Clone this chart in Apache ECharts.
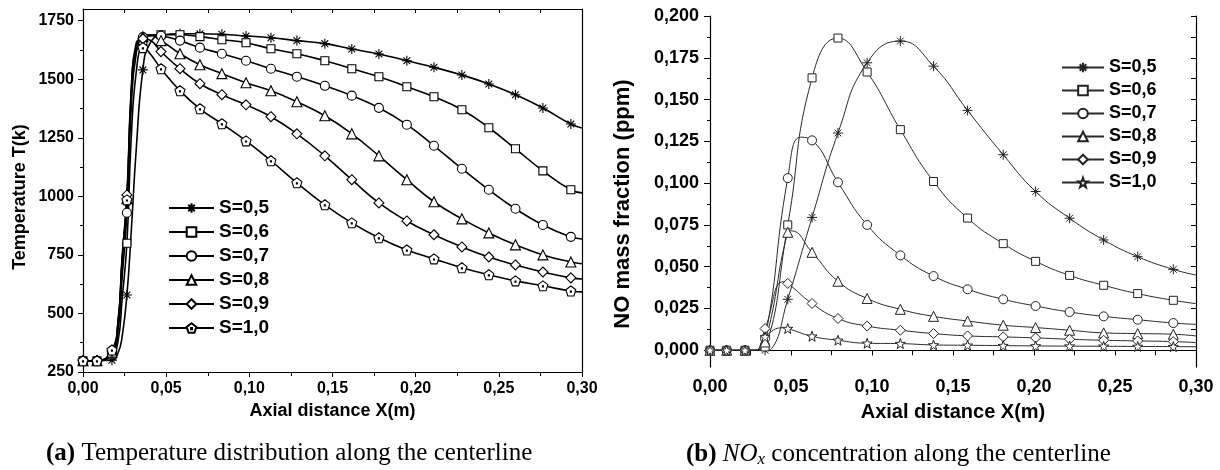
<!DOCTYPE html>
<html><head><meta charset="utf-8">
<script src="https://cdn.jsdelivr.net/npm/echarts@6/dist/echarts.min.js"></script>
<style>html,body{margin:0;padding:0;background:#fff}#c{width:1220px;height:470px}</style>
</head><body><div id="c"></div>
<script>
// ---------- data ----------
const seriesNames = ['S=0,5', 'S=0,6', 'S=0,7', 'S=0,8', 'S=0,9', 'S=1,0'];

// (a) temperature: marker positions and values
const tempX = [0, 0.0084, 0.0174, 0.0264, 0.036, 0.0469, 0.0583, 0.0703, 0.0835, 0.098, 0.113, 0.1286, 0.1454, 0.1616, 0.1779, 0.1947, 0.211, 0.2278, 0.244, 0.260, 0.2765, 0.2933];
const tempS05 = [298, 298, 300, 579, 1540, 1688, 1694, 1694, 1692, 1685, 1677, 1665, 1652, 1629, 1608, 1579, 1551, 1518, 1480, 1434, 1377, 1309];
const tempS06 = [298, 298, 323, 800, 1665, 1690, 1690, 1682, 1669, 1656, 1630, 1609, 1579, 1545, 1511, 1468, 1425, 1370, 1293, 1203, 1109, 1028];
const tempS07 = [298, 298, 330, 930, 1680, 1686, 1665, 1635, 1609, 1579, 1545, 1511, 1472, 1430, 1378, 1306, 1216, 1118, 1028, 947, 878, 827];
const tempS08 = [298, 298, 335, 990, 1682, 1665, 1609, 1562, 1524, 1485, 1451, 1404, 1344, 1267, 1173, 1071, 977, 904, 844, 793, 750, 720];
const tempS09 = [298, 298, 340, 1006, 1673, 1618, 1545, 1481, 1434, 1391, 1340, 1267, 1173, 1071, 972, 895, 836, 784, 741, 707, 677, 652];
const tempS10 = [298, 298, 344, 985, 1635, 1545, 1451, 1374, 1310, 1237, 1152, 1058, 964, 887, 823, 771, 733, 695, 665, 639, 618, 596];
// (a) extra curve points (no marker drawn there)
const tempCurveX = [0.021, 0.0235, 0.029, 0.032, 0.040, 0.300];
const tempCurveS05 = [330, 400, 850, 1200, 1650, 1292];
const tempCurveS06 = [380, 560, 1250, 1530, 1685, 1015];
const tempCurveS07 = [420, 650, 1380, 1610, 1690, 818];
const tempCurveS08 = [450, 720, 1440, 1640, 1688, 712];
const tempCurveS09 = [460, 740, 1460, 1655, 1668, 647];
const tempCurveS10 = [460, 730, 1430, 1625, 1612, 592];

// (b) NO mass fraction: marker positions and values
const noX = [0, 0.0103, 0.0216, 0.034, 0.048, 0.063, 0.079, 0.097, 0.1175, 0.138, 0.159, 0.181, 0.201, 0.222, 0.243, 0.264, 0.286];
const noS05 = [0, 0, 0, 0, 0.0305, 0.0795, 0.130, 0.172, 0.185, 0.170, 0.1435, 0.117, 0.095, 0.079, 0.066, 0.056, 0.0484];
const noS06 = [0, 0, 0, 0.002, 0.075, 0.163, 0.1868, 0.1665, 0.132, 0.101, 0.0791, 0.0638, 0.0532, 0.0448, 0.0389, 0.0339, 0.0299];
const noS07 = [0, 0, 0, 0.007, 0.103, 0.1256, 0.1005, 0.075, 0.0568, 0.0444, 0.0365, 0.0305, 0.0265, 0.0229, 0.0203, 0.0183, 0.0163];
const noS08 = [0, 0, 0, 0.005, 0.0706, 0.0586, 0.0413, 0.031, 0.0245, 0.0203, 0.0175, 0.015, 0.0136, 0.012, 0.0104, 0.0100, 0.0096];
const noS09 = [0, 0, 0, 0.013, 0.040, 0.028, 0.019, 0.0145, 0.012, 0.010, 0.0086, 0.008, 0.0074, 0.0066, 0.006, 0.0056, 0.0052];
const noS10 = [0, 0, 0, 0.008, 0.013, 0.0084, 0.006, 0.0042, 0.004, 0.0032, 0.003, 0.0028, 0.0026, 0.0025, 0.0024, 0.0023, 0.0022];
// (b) extra curve points (no marker)
const noCurveS05 = [[0.028, 0], [0.038, 0.001], [0.300, 0.045]];
const noCurveS06 = [[0.028, 0], [0.300, 0.0279]];
const noCurveS07 = [[0.028, 0], [0.056, 0.1275], [0.300, 0.0155]];
const noCurveS08 = [[0.028, 0], [0.050, 0.0715], [0.300, 0.0086]];
const noCurveS09 = [[0.028, 0], [0.045, 0.041], [0.300, 0.0046]];
const noCurveS10 = [[0.028, 0], [0.045, 0.0135], [0.300, 0.0021]];

// tick values
const tempLabelTicks = [250, 500, 750, 1000, 1250, 1500, 1750];
const tempMinorTicks = [375, 625, 875, 1125, 1375, 1625];
const noLabelTicks = [0, 0.025, 0.05, 0.075, 0.1, 0.125, 0.15, 0.175, 0.2];
const noMinorTicks = [0.0125, 0.0375, 0.0625, 0.0875, 0.1125, 0.1375, 0.1625, 0.1875];
const noRightTicks = [0, 0.0125, 0.025, 0.0375, 0.05, 0.0625, 0.075, 0.0875, 0.1, 0.1125, 0.125, 0.1375, 0.15, 0.1625, 0.175, 0.1875, 0.2];

// ---------- build ----------
function mergeA(ys, cys) {
  const pts = tempX.map((x, i) => ({ value: [x, ys[i]] }));
  tempCurveX.forEach((x, i) => pts.push({ value: [x, cys[i]], symbol: 'none' }));
  pts.sort((a, b) => a.value[0] - b.value[0]);
  return pts;
}
function mergeB(ys, curve) {
  const pts = noX.map((x, i) => ({ value: [x, ys[i]] }));
  curve.forEach(p => pts.push({ value: [p[0], p[1]], symbol: 'none' }));
  pts.sort((a, b) => a.value[0] - b.value[0]);
  return pts;
}

const SYM_AST = 'path://M5,0L5,10M0,5L10,5M1.6,1.6L8.4,8.4M8.4,1.6L1.6,8.4';
const SYM_PENT = 'path://M5,0L9.76,3.45L7.94,9.05L2.06,9.05L0.24,3.45Z M4.5,4.6L5.5,4.6L5.5,5.6L4.5,5.6Z';
const SYM_STAR = 'path://M5,0L6.18,3.38L9.76,3.45L6.9,5.62L7.94,9.05L5,7L2.06,9.05L3.1,5.62L0.24,3.45L3.82,3.38Z';

const symA = [SYM_AST, 'rect', 'circle', 'triangle', 'diamond', SYM_PENT];
const sizeA = [10, 8, 9, 10, 10, 10];
const symB = [SYM_AST, 'rect', 'circle', 'triangle', 'diamond', SYM_STAR];
const sizeB = [10, 8, 9, 10, 10, 10];

const dataA = [mergeA(tempS05, tempCurveS05), mergeA(tempS06, tempCurveS06), mergeA(tempS07, tempCurveS07),
               mergeA(tempS08, tempCurveS08), mergeA(tempS09, tempCurveS09), mergeA(tempS10, tempCurveS10)];
const dataB = [mergeB(noS05, noCurveS05), mergeB(noS06, noCurveS06), mergeB(noS07, noCurveS07),
               mergeB(noS08, noCurveS08), mergeB(noS09, noCurveS09), mergeB(noS10, noCurveS10)];

const FONT = '"Liberation Sans", Arial, sans-serif';
const SERIF = '"Liberation Serif", "Times New Roman", serif';
const black = '#000';

const series = [];
seriesNames.forEach((n, i) => {
  series.push({
    type: 'line', name: 'a' + n, xAxisIndex: 0, yAxisIndex: 0, data: dataA[i],
    smooth: 0.5, symbol: symA[i], symbolSize: sizeA[i], showAllSymbol: true,
    lineStyle: { color: '#000', width: 1.6 },
    itemStyle: { color: '#fff', borderColor: '#000', borderWidth: 1.1 },
    emphasis: { disabled: true }, z: 3
  });
});
seriesNames.forEach((n, i) => {
  series.push({
    type: 'line', name: 'b' + n, xAxisIndex: 2, yAxisIndex: 3, data: dataB[i],
    smooth: 0.5, symbol: symB[i], symbolSize: sizeB[i], showAllSymbol: true,
    lineStyle: { color: '#2a2a2a', width: 1 },
    itemStyle: { color: '#fff', borderColor: '#222', borderWidth: 1 },
    emphasis: { disabled: true }, z: 3
  });
});

const axLine = { show: true, lineStyle: { color: black, width: 1.2 } };
const tickStyle = { color: black, width: 1 };
const fmtX = v => v.toFixed(2).replace('.', ',');

const option = {
  animation: false,
  backgroundColor: '#fff',
  grid: [
    { left: 83, top: 9, width: 499, height: 363 },
    { left: 710, top: 16, width: 486, height: 351 }
  ],
  xAxis: [
    { gridIndex: 0, type: 'value', position: 'bottom', min: 0, max: 0.3, interval: 0.05,
      axisLine: axLine, axisTick: { length: 5, lineStyle: tickStyle },
      minorTick: { show: true, splitNumber: 2, length: 4, lineStyle: tickStyle },
      splitLine: { show: false }, minorSplitLine: { show: false },
      axisLabel: { formatter: fmtX, fontSize: 16, fontWeight: 'bold', color: black, fontFamily: FONT, margin: 9 },
      name: 'Axial distance X(m)', nameLocation: 'middle', nameGap: 29,
      nameTextStyle: { fontSize: 18, fontWeight: 'bold', color: black, fontFamily: FONT } },
    { gridIndex: 0, type: 'value', position: 'top', min: 0, max: 0.3, interval: 0.025,
      axisLine: axLine, axisTick: { inside: true, length: 4, lineStyle: tickStyle },
      axisLabel: { show: false }, splitLine: { show: false } },
    { gridIndex: 1, type: 'value', position: 'bottom', min: 0, max: 0.3, interval: 0.05,
      axisLine: axLine, axisTick: { length: 5, lineStyle: tickStyle },
      minorTick: { show: true, splitNumber: 2, length: 4, lineStyle: tickStyle },
      splitLine: { show: false }, minorSplitLine: { show: false },
      axisLabel: { formatter: fmtX, fontSize: 18, fontWeight: 'bold', color: black, fontFamily: FONT, margin: 11 },
      name: 'Axial distance X(m)', nameLocation: 'middle', nameGap: 35,
      nameTextStyle: { fontSize: 20, fontWeight: 'bold', color: black, fontFamily: FONT } },
    { gridIndex: 1, type: 'value', position: 'top', min: 0, max: 0.3, interval: 0.025,
      axisLine: axLine, axisTick: { inside: true, length: 5, lineStyle: tickStyle },
      axisLabel: { show: false }, splitLine: { show: false } }
  ],
  yAxis: [
    { gridIndex: 0, type: 'value', position: 'left', min: 250, max: 1800,
      axisLine: axLine,
      axisTick: { length: 5, lineStyle: tickStyle, customValues: tempLabelTicks },
      axisLabel: { customValues: tempLabelTicks, formatter: v => String(v), fontSize: 16, fontWeight: 'bold', color: black, fontFamily: FONT, margin: 9 },
      splitLine: { show: false } },
    { gridIndex: 0, type: 'value', position: 'left', min: 250, max: 1800,
      axisLine: { show: false },
      axisTick: { length: 3, lineStyle: tickStyle, customValues: tempMinorTicks },
      axisLabel: { show: false }, splitLine: { show: false } },
    { gridIndex: 0, type: 'value', position: 'right', min: 250, max: 1800,
      axisLine: axLine, axisTick: { show: false }, axisLabel: { show: false }, splitLine: { show: false } },
    { gridIndex: 1, type: 'value', position: 'left', min: -0.01, max: 0.2,
      axisLine: axLine,
      axisTick: { length: 6, lineStyle: tickStyle, customValues: noLabelTicks },
      axisLabel: { customValues: noLabelTicks, formatter: v => v.toFixed(3).replace('.', ','),
        fontSize: 18, fontWeight: 'bold', color: black, fontFamily: FONT, margin: 11 },
      splitLine: { show: false } },
    { gridIndex: 1, type: 'value', position: 'left', min: -0.01, max: 0.2,
      axisLine: { show: false },
      axisTick: { length: 3, lineStyle: tickStyle, customValues: noMinorTicks },
      axisLabel: { show: false }, splitLine: { show: false } },
    { gridIndex: 1, type: 'value', position: 'right', min: -0.01, max: 0.2,
      axisLine: axLine,
      axisTick: { inside: true, length: 5, lineStyle: tickStyle, customValues: noRightTicks },
      axisLabel: { show: false }, splitLine: { show: false } }
  ],
  legend: [
    { data: seriesNames.map(n => 'a' + n), formatter: n => n.slice(1), orient: 'vertical',
      left: 163, top: 193, itemWidth: 45, itemHeight: 12, itemGap: 4, selectedMode: false,
      textStyle: { fontSize: 19, fontWeight: 'bold', color: black, fontFamily: FONT, lineHeight: 20 } },
    { data: seriesNames.map(n => 'b' + n), formatter: n => n.slice(1), orient: 'vertical',
      left: 1056, top: 53, itemWidth: 42, itemHeight: 12, itemGap: 4, selectedMode: false,
      textStyle: { fontSize: 18, fontWeight: 'bold', color: black, fontFamily: FONT, lineHeight: 19 } }
  ],
  graphic: [
    { type: 'text', x: 20, y: 197, rotation: Math.PI / 2,
      style: { text: 'Temperature T(k)', fontSize: 18, fontWeight: 'bold', fontFamily: FONT, fill: black,
        align: 'center', verticalAlign: 'middle' } },
    { type: 'text', x: 623, y: 204, rotation: Math.PI / 2,
      style: { text: 'NO mass fraction (ppm)', fontSize: 22, fontWeight: 'bold', fontFamily: FONT, fill: black,
        align: 'center', verticalAlign: 'middle' } },
    { type: 'text', x: 46, y: 441,
      style: { text: '{b|(a)} Temperature distribution along the centerline', fontSize: 25, fontFamily: SERIF, fill: black,
        rich: { b: { fontSize: 25, fontFamily: SERIF, fontWeight: 'bold' } } } },
    { type: 'text', x: 686, y: 441,
      style: { text: '{b|(b)} {i|NO}{s|x} concentration along the centerline', fontSize: 25, fontFamily: SERIF, fill: black,
        rich: { b: { fontSize: 25, fontFamily: SERIF, fontWeight: 'bold' },
                i: { fontSize: 25, fontFamily: SERIF, fontStyle: 'italic' },
                s: { fontSize: 17, fontFamily: SERIF, fontStyle: 'italic', padding: [10, 0, 0, 0] } } } }
  ],
  series: series
};

const chart = echarts.init(document.getElementById('c'), null, { renderer: 'canvas' });
chart.setOption(option);
</script>
</body></html>
